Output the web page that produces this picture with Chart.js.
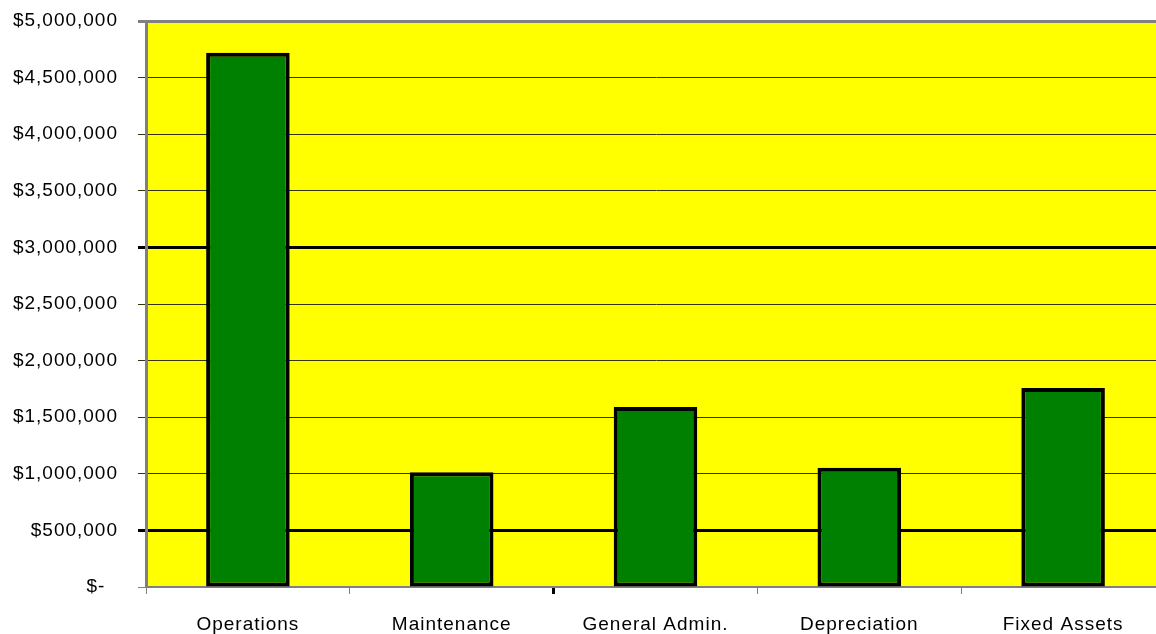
<!DOCTYPE html>
<html>
<head>
<meta charset="utf-8">
<script src="https://cdn.jsdelivr.net/npm/chart.js@4"></script>
<style>
  html, body { margin: 0; padding: 0; background: #fff; overflow: hidden; }
  #wrap { width: 1180px; height: 634px; position: relative; }
</style>
</head>
<body>
<div id="wrap"><canvas id="c" width="1180" height="634"></canvas></div>
<script>
const categories = ['Operations', 'Maintenance', 'General Admin.', 'Depreciation', 'Fixed Assets'];
const costValues = [4720000, 1014000, 1590000, 1053000, 1758000];
const yTickValues = [0, 500000, 1000000, 1500000, 2000000, 2500000, 3000000, 3500000, 4000000, 4500000, 5000000];

const FONT = { family: '"Liberation Sans", Arial, sans-serif', size: 19 };
const SPACING = '1px';

function fmtMoney(v) {
  if (v === 0) return '$-  ';
  return '$' + v.toLocaleString('en-US');
}

const plotBg = {
  id: 'plotBg',
  beforeInit(chart) { chart.ctx.letterSpacing = SPACING; },
  beforeDraw(chart) {
    const { ctx, chartArea: a } = chart;
    ctx.save();
    ctx.fillStyle = '#FFFF00';
    ctx.fillRect(a.left, a.top, a.right - a.left, a.bottom - a.top);
    ctx.restore();
    ctx.letterSpacing = SPACING;
  }
};

new Chart(document.getElementById('c'), {
  type: 'bar',
  data: {
    labels: categories,
    datasets: [{
      data: costValues,
      backgroundColor: '#008000',
      borderColor: '#000000',
      borderWidth: 4,
      borderSkipped: false,
      categoryPercentage: 1,
      barPercentage: 0.41
    }]
  },
  options: {
    responsive: false,
    animation: false,
    devicePixelRatio: 1,
    layout: { padding: { top: 21, right: 15, left: 0, bottom: 0 } },
    plugins: { legend: { display: false }, tooltip: { enabled: false } },
    scales: {
      x: {
        afterFit(s) { s.height = 47; s.paddingLeft = 0; s.paddingRight = 0; },
        grid: {
          drawOnChartArea: false,
          drawTicks: true,
          tickLength: 7,
          color: (c) => c.index === 2 ? '#000000' : '#808080',
          lineWidth: (c) => c.index === 2 ? 3 : 1
        },
        border: { display: true, color: '#808080', width: 2 },
        ticks: { color: '#000', font: FONT, padding: 19, maxRotation: 0, autoSkip: false }
      },
      y: {
        min: 0,
        max: 5000000,
        afterFit(s) { s.width = 146; s.paddingTop = 0; s.paddingBottom = 0; },
        afterBuildTicks(s) { s.ticks = yTickValues.map(v => ({ value: v })); },
        grid: {
          drawTicks: true,
          tickLength: 8,
          color: (c) => {
            const v = c.tick && c.tick.value;
            if (v === 5000000 || v === 0) return '#808080';
            if (v === 500000 || v === 3000000) return '#000000';
            return '#333300';
          },
          lineWidth: (c) => {
            const v = c.tick && c.tick.value;
            if (v === 5000000) return 3;
            if (v === 500000 || v === 3000000) return 3;
            return 1;
          }
        },
        border: { display: true, color: '#808080', width: 3 },
        ticks: {
          color: '#000',
          font: FONT,
          padding: 20,
          callback: (v) => fmtMoney(v)
        }
      }
    }
  },
  plugins: [plotBg]
});
</script>
</body>
</html>
